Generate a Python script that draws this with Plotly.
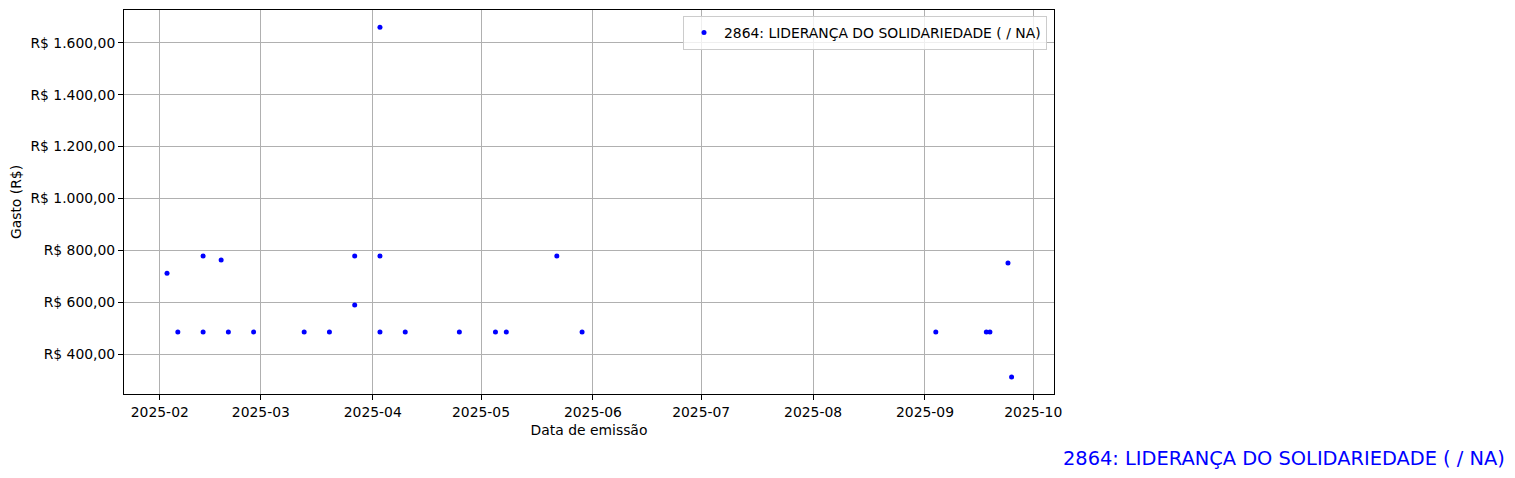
import plotly.graph_objects as go

label = "2864: LIDERANÇA DO SOLIDARIEDADE ( / NA)"

dates = [
    "2025-02-03", "2025-02-06", "2025-02-13", "2025-02-13", "2025-02-18",
    "2025-02-20", "2025-02-27", "2025-03-13", "2025-03-20", "2025-03-27",
    "2025-03-27", "2025-04-03", "2025-04-03", "2025-04-03", "2025-04-10",
    "2025-04-25", "2025-05-05", "2025-05-08", "2025-05-22", "2025-05-29",
    "2025-09-04", "2025-09-18", "2025-09-19", "2025-09-24", "2025-09-25",
]
values = [
    713, 487, 779, 487, 764,
    487, 487, 487, 487, 779,
    591, 779, 487, 1659, 487,
    487, 487, 487, 779, 487,
    487, 487, 487, 752, 314,
]

x_tick_vals = ["2025-02-01", "2025-03-01", "2025-04-01", "2025-05-01", "2025-06-01",
               "2025-07-01", "2025-08-01", "2025-09-01", "2025-10-01"]
x_tick_text = ["2025-02", "2025-03", "2025-04", "2025-05", "2025-06",
               "2025-07", "2025-08", "2025-09", "2025-10"]
y_tick_vals = [400, 600, 800, 1000, 1200, 1400, 1600]
y_tick_text = ["R$ 400,00", "R$ 600,00", "R$ 800,00", "R$ 1.000,00",
               "R$ 1.200,00", "R$ 1.400,00", "R$ 1.600,00"]

FONT = "DejaVu Sans"
FS = 13.9

fig = go.Figure()
fig.add_trace(go.Scatter(
    x=dates, y=values, mode="markers", name=label,
    marker=dict(color="blue", size=5, line=dict(width=0)),
))

axis_common = dict(
    showline=True, linecolor="black", linewidth=1, mirror=True,
    showgrid=True, gridcolor="#b0b0b0", gridwidth=1,
    ticks="outside", ticklen=5, tickwidth=1, tickcolor="black",
    tickfont=dict(family=FONT, size=FS, color="black"),
    zeroline=False,
)

# page body has an 8px margin, so the figure is drawn 8px smaller
W, H = 1507, 470
L, T = 116, 2
PW, PH = 930, 384

fig.update_layout(
    width=W, height=H, autosize=False,
    margin=dict(l=L, r=W - L - PW, t=T, b=H - T - PH, pad=0),
    paper_bgcolor="white", plot_bgcolor="white",
    font=dict(family=FONT, size=FS, color="black"),
    showlegend=True,
    legend=dict(
        x=(1047 - 8 - L) / PW, y=1 - (16 - 8 - T) / PH,
        xanchor="right", yanchor="top",
        bordercolor="#cccccc", borderwidth=1, bgcolor="rgba(255,255,255,0.8)",
        font=dict(family=FONT, size=FS, color="black"),
    ),
    xaxis=dict(
        **axis_common,
        type="date",
        range=["2025-01-22 02:00", "2025-10-06 18:00"],
        tickvals=x_tick_vals, ticktext=x_tick_text,
        title=dict(text="Data de emissão", standoff=6,
                   font=dict(family=FONT, size=FS, color="black")),
    ),
    yaxis=dict(
        **axis_common,
        range=[248.2, 1725.6],
        tickvals=y_tick_vals, ticktext=y_tick_text,
        title=dict(text="Gasto (R$)", standoff=7,
                   font=dict(family=FONT, size=FS, color="black")),
    ),
    annotations=[dict(
        text=label, xref="paper", yref="paper",
        x=(1507 - 8 - L) / PW, y=-(458 - 8 - T - PH) / PH,
        xanchor="right", yanchor="middle",
        showarrow=False, font=dict(family=FONT, size=19.4, color="blue"),
    )],
)

fig.write_html("out.html")
